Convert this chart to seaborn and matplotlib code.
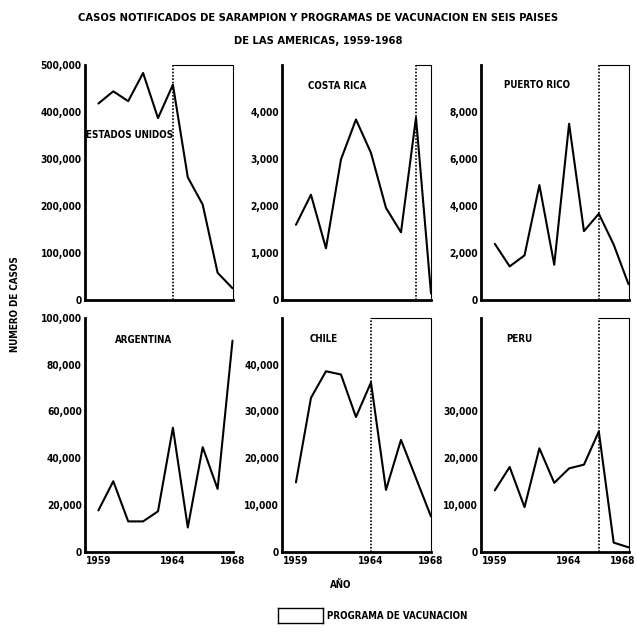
import pandas as pd
import seaborn as sns
import matplotlib.pyplot as plt
import matplotlib.transforms as mtransforms
from matplotlib.ticker import FuncFormatter, FixedLocator

years = list(range(1959, 1969))

countries = ["ESTADOS UNIDOS", "COSTA RICA", "PUERTO RICO", "ARGENTINA", "CHILE", "PERU"]
usa = [418000, 444000, 423000, 483000, 387000, 458000, 261000, 203000, 58000, 25000]
costa_rica = [1600, 2240, 1100, 2990, 3840, 3130, 1960, 1440, 3880, 140]
puerto_rico = [2390, 1430, 1900, 4890, 1500, 7500, 2930, 3670, 2360, 670]
argentina = [17600, 30100, 12900, 12900, 17200, 53000, 10300, 44700, 26800, 90300]
chile = [14800, 32900, 38600, 37900, 28800, 36200, 13200, 23900, 15700, 7500]
peru = [13100, 18100, 9500, 22100, 14700, 17800, 18600, 25700, 1900, 900]
series = [usa, costa_rica, puerto_rico, argentina, chile, peru]

# year the vaccination programme started (None = no programme)
vacc_start = [1964, 1967, 1966, None, 1964, 1966]
y_top = [500000, 5000, 10000, 100000, 50000, 50000]
y_step = [100000, 1000, 2000, 20000, 10000, 10000]
y_label_max = [500000, 4000, 8000, 100000, 40000, 30000]

sns.set_style("white")
plt.rcParams["font.family"] = ["DejaVu Sans"]
plt.rcParams["font.stretch"] = "condensed"
plt.rcParams["font.weight"] = "bold"
plt.rcParams["text.color"] = "black"

fig = plt.figure(figsize=(6.37, 6.34), dpi=100)

lefts = [0.1327, 0.4427, 0.7551]
widths = [0.2323, 0.2339, 0.2316]
bottoms = [0.5268, 0.1301]
heights = [0.3707, 0.3683]
label_pos = [(0.01, 0.70, "left"), (0.37, 0.91, "center"), (0.38, 0.915, "center"),
             (0.40, 0.906, "center"), (0.28, 0.91, "center"), (0.26, 0.91, "center")]

for i, name in enumerate(countries):
    r, c = divmod(i, 3)
    ax = fig.add_axes([lefts[c], bottoms[r], widths[c], heights[r]])
    df = pd.DataFrame({"year": years, "cases": series[i]})
    sns.lineplot(data=df, x="year", y="cases", ax=ax, color="black", linewidth=1.5)
    for p in ax.lines:
        p.set_clip_on(False)
    ax.set_xlim(1958.07, 1968)
    ax.set_ylim(0, y_top[i])

    # vaccination programme box
    if vacc_start[i] is not None:
        ax.axvline(vacc_start[i], color="black", linestyle=(0, (1, 1)), linewidth=1.2)
        ax.plot([vacc_start[i], 1968, 1968], [y_top[i], y_top[i], 0],
                color="black", linewidth=0.8, clip_on=False)

    for s in ["top", "right"]:
        ax.spines[s].set_visible(False)
    for s in ["left", "bottom"]:
        ax.spines[s].set_linewidth(2)
        ax.spines[s].set_color("black")

    ax.set_xticks(years)
    if r == 1:
        ax.set_xticklabels(["1959" if y == 1959 else "1964" if y == 1964 else "1968" if y == 1968 else ""
                            for y in years])
    else:
        ax.set_xticklabels([])
    yt = list(range(0, y_top[i] + 1, y_step[i]))
    ax.yaxis.set_major_locator(FixedLocator(yt))
    lim = y_label_max[i]
    ax.yaxis.set_major_formatter(FuncFormatter(
        lambda v, pos, lim=lim: (f"{int(v):,}" if v <= lim else "")))
    ax.tick_params(axis="both", direction="in", length=3, width=1, labelsize=7.3,
                   colors="black", pad=2)
    ax.tick_params(axis="x", pad=3)
    for t in ax.get_xticklabels() + ax.get_yticklabels():
        t.set_fontweight("bold")
    if r == 1 and c == 2:
        # last year label sits against the right edge of the page
        last = ax.get_xticklabels()[-1]
        last.set_horizontalalignment("right")
        last.set_transform(last.get_transform() +
                           mtransforms.ScaledTranslation(7 / 100, 0, fig.dpi_scale_trans))
    ax.set_xlabel("")
    ax.set_ylabel("")
    lx, ly, ha = label_pos[i]
    ax.text(lx, ly, name, transform=ax.transAxes, ha=ha, va="center",
            fontsize=7, fontweight="bold")

fig.text(0.5, 0.972, "CASOS NOTIFICADOS DE SARAMPION Y PROGRAMAS DE VACUNACION EN SEIS PAISES",
         ha="center", va="center", fontsize=8, fontweight="bold")
fig.text(0.5, 0.936, "DE LAS AMERICAS, 1959-1968", ha="center", va="center",
         fontsize=8, fontweight="bold")
fig.text(0.024, 0.52, "NUMERO DE CASOS", rotation=90, ha="center", va="center",
         fontsize=7, fontweight="bold")
fig.text(0.535, 0.077, "AÑO", ha="center", va="center", fontsize=7, fontweight="bold")

# legend box
lax = fig.add_axes([0.437, 0.017, 0.07, 0.024])
lax.set_xticks([])
lax.set_yticks([])
for s in lax.spines.values():
    s.set_linewidth(1)
    s.set_color("black")
fig.text(0.514, 0.029, "PROGRAMA DE VACUNACION", ha="left", va="center",
         fontsize=7, fontweight="bold")

fig.savefig("out.png", dpi=100)
